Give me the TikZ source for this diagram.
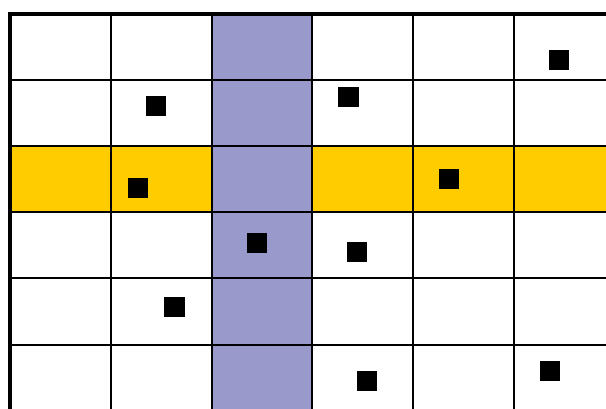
\documentclass[tikz,border=0pt]{standalone}
\begin{document}
\begin{tikzpicture}[x=0.01cm,y=-0.01cm,
  gridline/.style={line width=0.6pt,draw=black},
  border/.style={line width=0.9pt,draw=black},
  dot/.style={fill=black,minimum size=0.2cm,inner sep=0pt,outer sep=0pt,draw=none}]
\useasboundingbox (0,0) rectangle (606,408);
\clip (0,0) rectangle (606,408);
\fill[white] (0,0) rectangle (606,408);
% highlighted row and column
\fill[fill={rgb,255:red,255;green,204;blue,0}] (10,146) rectangle (620,212);
\fill[fill={rgb,255:red,153;green,153;blue,204}] (212,14) rectangle (312,420);
% grid
\foreach \x in {111,212,312,413,514}
  \draw[gridline] (\x,14) -- (\x,420);
\foreach \y in {80,146,212,278,345}
  \draw[gridline] (10,\y) -- (620,\y);
\draw[border] (10,420) -- (10,14) -- (620,14);
% points
\node[dot] (p1) at (156,106) {};
\node[dot] (p2) at (348.5,96.5) {};
\node[dot] (p3) at (558.5,59.5) {};
\node[dot] (p4) at (138,188) {};
\node[dot] (p5) at (257,243) {};
\node[dot] (p6) at (357,252) {};
\node[dot] (p7) at (449,179) {};
\node[dot] (p8) at (174.5,307) {};
\node[dot] (p9) at (367,380.5) {};
\node[dot] (p10) at (550,370.5) {};
\end{tikzpicture}
\end{document}
